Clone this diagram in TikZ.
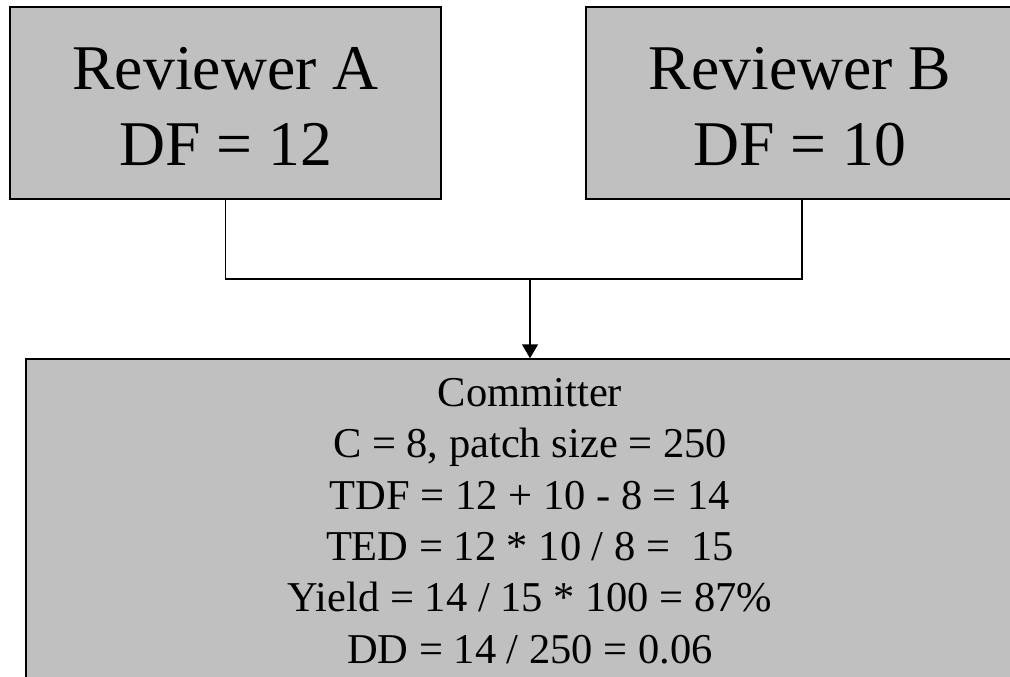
\documentclass[tikz,border=0pt]{standalone}
\usepackage{fontspec}
\setmainfont{Liberation Serif}
\usetikzlibrary{arrows.meta}
\definecolor{boxgray}{RGB}{192,192,192}
\begin{document}
\begin{tikzpicture}[x=1pt,y=-1pt,
  box/.style={draw=black,fill=boxgray,line width=1.5pt,rectangle,inner sep=0pt},
  big/.style={anchor=base,font=\fontsize{63.7}{76}\selectfont,inner sep=0pt},
  small/.style={anchor=base,font=\fontsize{42.5}{51}\selectfont,inner sep=0pt},
  conn/.style={line width=1.5pt},
  arr/.style={conn,-{Triangle[width=16pt,length=14pt]}}]
\useasboundingbox (0,0) rectangle (1010,677);
\clip (0,0) rectangle (1010,677);
\node[box,minimum width=431pt,minimum height=192pt] (A) at (225.5,103) {};
\node[box,minimum width=428pt,minimum height=192pt] (B) at (800,103) {};
\node[box,minimum width=1008pt,minimum height=361pt] (C) at (530,539.5) {};
\node[big] (a1) at (225.5,89) {Reviewer A};
\node[big] (a2) at (225.5,165) {DF = 12};
\node[big] (b1) at (800,89) {Reviewer B};
\node[big] (b2) at (800,165) {DF = 10};
\node[small] (c1) at (530,406) {Committer};
\node[small] (c2) at (530,457.5) {C = 8, patch size = 250};
\node[small] (c3) at (530,509) {TDF = 12 + 10 - 8 = 14};
\node[small] (c4) at (530,560) {TED = 12 * 10 / 8 =\ \ 15};
\node[small] (c5) at (530,611.5) {Yield = 14 / 15 * 100 = 87\%};
\node[small] (c6) at (530,663) {DD = 14 / 250 = 0.06};
\coordinate (j) at (530,279);
\draw[conn] (A.south) |- (j) -| ([xshift=2pt]B.south);
\draw[arr] (j) -- (C.north);
\end{tikzpicture}
\end{document}
